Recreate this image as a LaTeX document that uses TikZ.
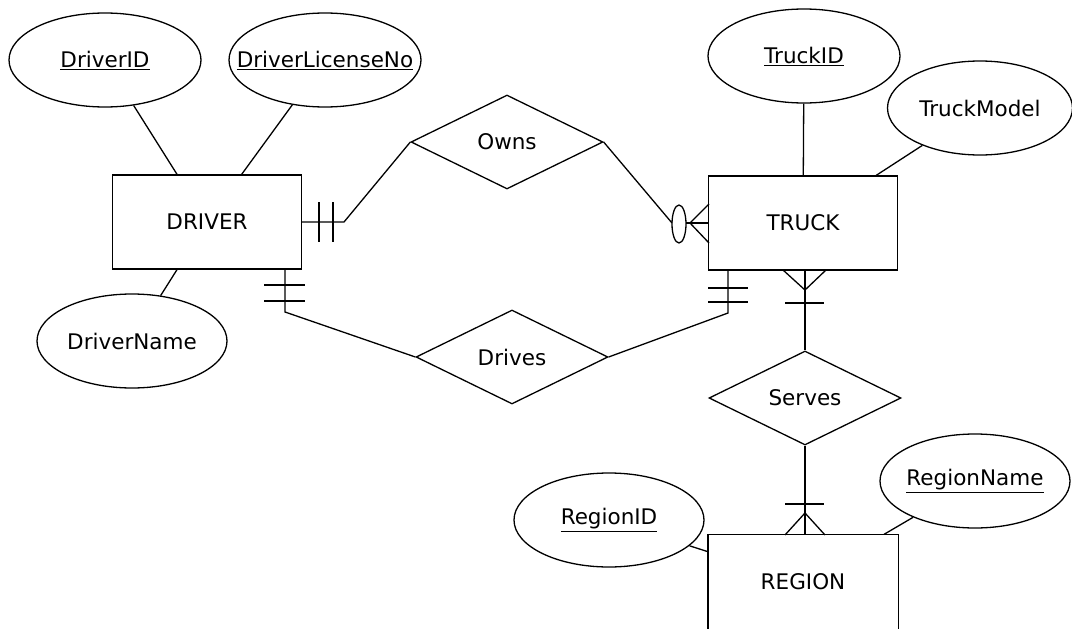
\documentclass[tikz,border=0pt]{standalone}
\usepackage{fontspec}
\setmainfont{DejaVu Sans}
\usetikzlibrary{shapes.geometric,calc}
\newcommand{\zw}[1]{\makebox[0pt]{#1}}
\begin{document}
\begin{tikzpicture}[x=1pt,y=-1pt,line width=1.3pt,
  every node/.style={font=\fontsize{21.5}{25}\selectfont, inner sep=0pt},
  entity/.style={draw, rectangle, minimum width=189pt, minimum height=94pt},
  attr/.style={draw, ellipse, minimum width=192pt, minimum height=94pt},
  rel/.style={draw, diamond, minimum width=192pt, minimum height=94pt},
  conn/.style={draw, line width=1.3pt}]
\useasboundingbox (0,0) rectangle (1072,629);
% entities
\node[entity] (driver) at (207,222) {DRIVER};
\node[entity] (truck) at (803,223) {TRUCK};
\node[entity, draw=none] (region) at (803,582) {REGION};
\draw[conn] ($(region.south west)+(0,10)$) -- (region.north west) -- (region.north east) -- ($(region.south east)+(0,10)$);
% attributes
\node[attr] (did) at (105,60) {\zw{\underline{DriverID}}};
\node[attr] (dlic) at (325,60) {\zw{\underline{DriverLicenseNo}}};
\node[attr, minimum width=190pt] (dname) at (132,341) {\zw{DriverName}};
\node[attr] (tid) at (804,56) {\zw{\underline{TruckID}}};
\node[attr, minimum width=185pt] (tmodel) at (980,108) {\zw{TruckModel}};
\node[attr, minimum width=190pt] (rid) at (609,520) {\zw{\underline{RegionID}}};
\node[attr, minimum width=190pt] (rname) at (975,481) {\zw{\underline{RegionName}}};
% relationships
\node[rel] (owns) at (507,142) {Owns};
\node[rel] (drives) at (512,357) {Drives};
\node[rel] (serves) at (805,398) {Serves};
% attribute links
\draw[conn] (did) -- (driver);
\draw[conn] (dlic) -- (driver);
\draw[conn] (dname) -- (driver);
\draw[conn] (tid) -- (truck);
\draw[conn] (tmodel) -- (truck);
\draw[conn] (rid) -- (region);
\draw[conn] (rname) -- (region);
% Owns
\coordinate (o1) at (344,222);
\draw[conn] (driver.east) -- (o1) -- (owns.west);
\draw[conn] (319,202) -- (319,242);
\draw[conn] (333,202) -- (333,242);
\coordinate (o2) at (672,223);
\draw[conn] (owns.east) -- (o2);
\draw[conn] (679,224) ellipse [x radius=7, y radius=19];
\coordinate (o3) at (686,223);
\draw[conn] (o3) -- (truck.west);
\draw[conn] (709,204) -- (690,223) -- (709,243);
% Drives
\coordinate (d1) at (285,269);
\coordinate (d2) at (285,312);
\draw[conn] (d1) -- (d2) -- (drives.west);
\draw[conn] (264,285) -- (305,285);
\draw[conn] (264,301) -- (305,301);
\coordinate (d3) at (728,313);
\coordinate (d4) at (728,270);
\draw[conn] (drives.east) -- (d3) -- (d4);
\draw[conn] (708,288) -- (748,288);
\draw[conn] (708,302) -- (748,302);
% Serves
\coordinate (s1) at (805,270);
\draw[conn] (s1) -- (serves.north);
\draw[conn] (783,270) -- (805,290) -- (826,270);
\draw[conn] (785,303) -- (824,303);
\coordinate (s2) at (805,535);
\draw[conn] (serves.south) -- (s2);
\draw[conn] (785,504) -- (824,504);
\draw[conn] (785,535) -- (805,513) -- (825,535);
\end{tikzpicture}
\end{document}
